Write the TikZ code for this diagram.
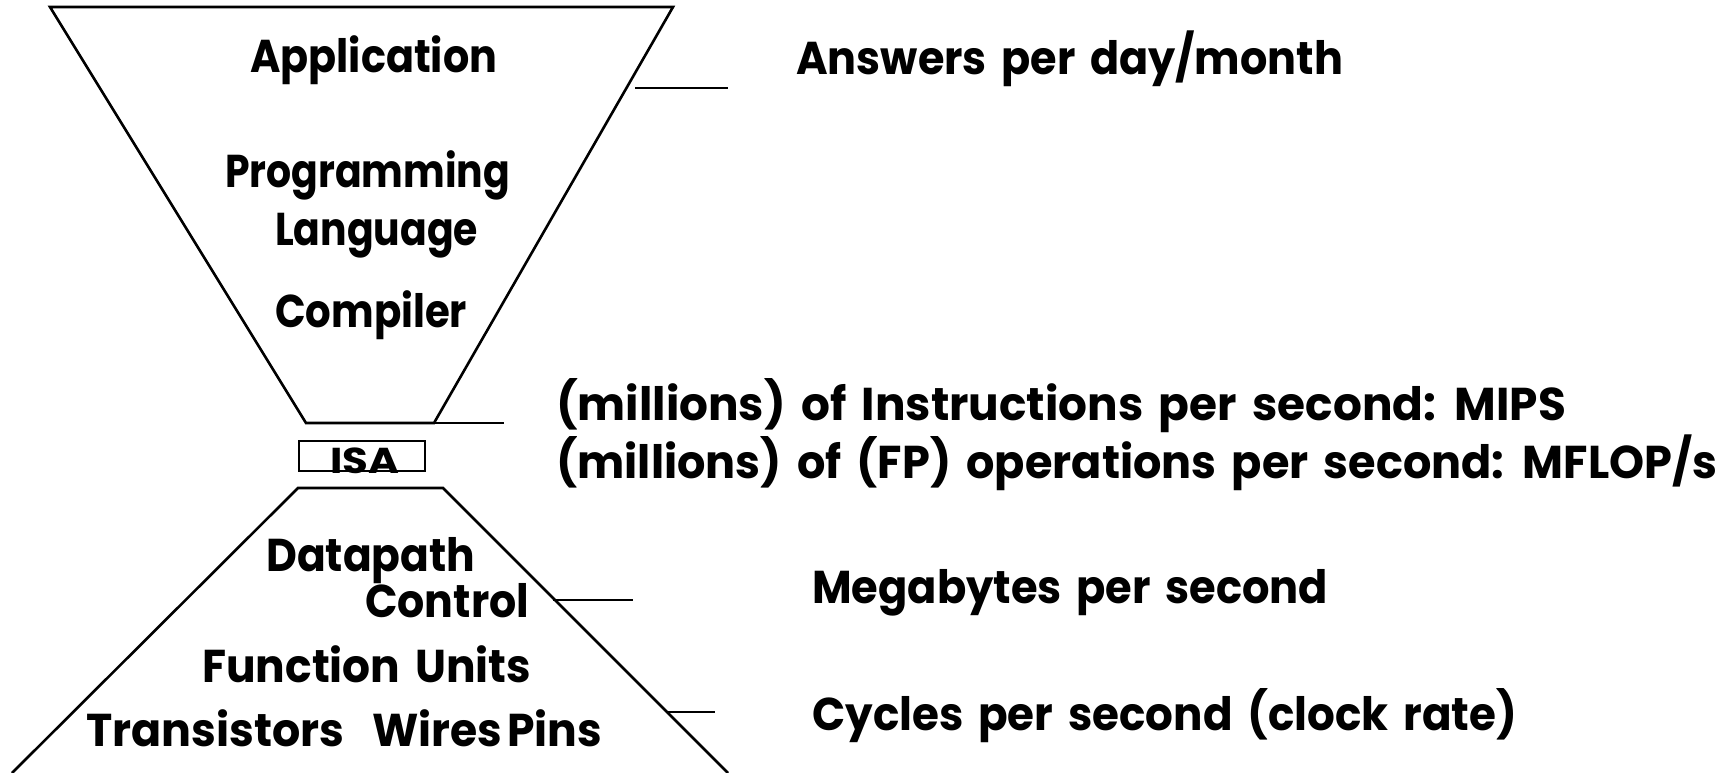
\documentclass[tikz,border=0pt]{standalone}
\usepackage{fontspec}
\setmainfont{Poppins}[WordSpace=1.6]
\usepackage{graphicx}
% set a label stretched to a given width, keeping its height
\newcommand{\fitw}[2]{\resizebox{#1pt}{\height}{#2}}
\begin{document}
\begin{tikzpicture}[x=1pt,y=-1pt,
  edge/.style={line width=2.6pt, line join=miter, line cap=butt},
  lbl/.style={inner sep=0pt, anchor=base west,
    font=\bfseries\fontsize{46}{50}\selectfont},
  small/.style={inner sep=0pt, anchor=base,
    font=\bfseries\fontsize{36}{40}\selectfont}]
\useasboundingbox (0,0) rectangle (1734,773);

% upper funnel: software levels
\coordinate (ut1) at (50,7);
\coordinate (ut2) at (673,7);
\coordinate (ub2) at (434,423);
\coordinate (ub1) at (306,423);
\draw[edge] (ut1) -- (ut2) -- (ub2) -- (ub1) -- cycle;

% lower funnel: hardware levels
\coordinate (lt1) at (298,488);
\coordinate (lt2) at (443,488);
\coordinate (lb1) at (12,773);
\coordinate (lb2) at (728,773);
\draw[edge] (lb1) -- (lt1) -- (lt2) -- (lb2);

% instruction set boundary
\node[draw, line width=2.4pt, minimum width=126pt, minimum height=30pt,
      inner sep=0pt] (isabox) at (362,456) {};
\node[small] (isa) at (365,473) {\fitw{69}{ISA}};

% level labels
\node[lbl] (app)  at (250,73)  {\fitw{247}{Application}};
\node[lbl] (prog) at (225,187) {\fitw{285}{Programming}};
\node[lbl] (lang) at (275,245) {\fitw{203}{Language}};
\node[lbl] (comp) at (275,327) {\fitw{192}{Compiler}};
\node[lbl] (dp)   at (266,571) {\fitw{209}{Datapath}};
\node[lbl] (ctl)  at (365,617) {\fitw{164}{Control}};
\node[lbl] (fu)   at (202,682) {\fitw{329}{Function Units}};
\node[lbl] (tr)   at (86,746)  {\fitw{258}{Transistors}};
\node[lbl] (wp)   at (372,746) {\fitw{230}{Wires\hspace{0.12em}Pins}};

% metric labels
\node[lbl] (m1) at (796,75)  {\fitw{547}{Answers per day/month}};
\node[lbl] (m2) at (556,420) {\fitw{1010}{(millions) of Instructions per second: MIPS}};
\node[lbl] (m3) at (556,478) {\fitw{1161}{(millions) of (FP) operations per second: MFLOP/s}};
\node[lbl] (m4) at (812,603) {\fitw{516}{Megabytes per second}};
\node[lbl] (m5) at (812,730) {\fitw{705}{Cycles per second (clock rate)}};

% leader lines from the funnel towards the metrics
\coordinate (a1) at (635,88);   \coordinate (a2) at (728,88);
\coordinate (b2) at (504,423);
\coordinate (c1) at (553,600);  \coordinate (c2) at (633,600);
\coordinate (d1) at (667,712);  \coordinate (d2) at (715,712);
\draw[edge] (a1) -- (a2);
\draw[edge] (ub2) -- (b2);
\draw[edge] (c1) -- (c2);
\draw[edge] (d1) -- (d2);
\end{tikzpicture}
\end{document}
